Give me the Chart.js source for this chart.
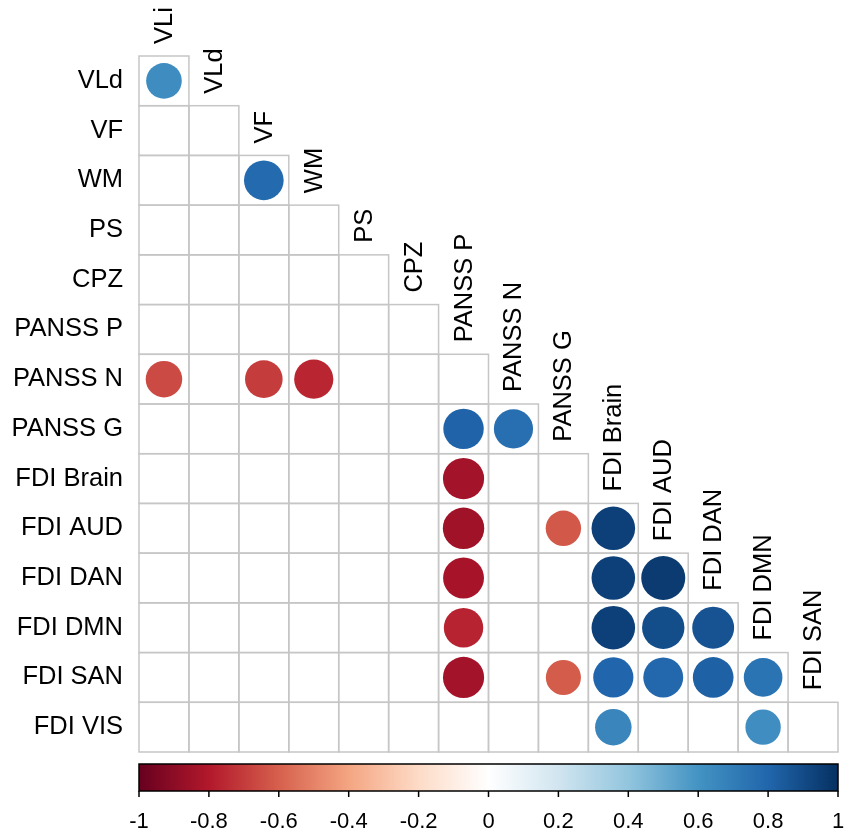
<!DOCTYPE html>
<html>
<head>
<meta charset="utf-8">
<script src="https://cdn.jsdelivr.net/npm/chart.js@4.4.0/dist/chart.umd.min.js"></script>
<style>
html, body { margin: 0; padding: 0; background: #fff; }
#wrap { width: 851px; height: 837px; }
</style>
</head>
<body>
<div id="wrap"><canvas id="corrChart"></canvas></div>
<script>
var rowLabels = ['VLd', 'VF', 'WM', 'PS', 'CPZ', 'PANSS P', 'PANSS N', 'PANSS G',
    'FDI Brain', 'FDI AUD', 'FDI DAN', 'FDI DMN', 'FDI SAN', 'FDI VIS'];
var colLabels = ['VLi', 'VLd', 'VF', 'WM', 'PS', 'CPZ', 'PANSS P', 'PANSS N',
    'PANSS G', 'FDI Brain', 'FDI AUD', 'FDI DAN', 'FDI DMN', 'FDI SAN'];

// significant correlations only (blank cells are not shown)
var corrRow = ['VLd', 'WM', 'PANSS N', 'PANSS N', 'PANSS N', 'PANSS G', 'PANSS G',
    'FDI Brain', 'FDI AUD', 'FDI AUD', 'FDI AUD', 'FDI DAN', 'FDI DAN', 'FDI DAN',
    'FDI DMN', 'FDI DMN', 'FDI DMN', 'FDI DMN', 'FDI SAN', 'FDI SAN', 'FDI SAN',
    'FDI SAN', 'FDI SAN', 'FDI SAN', 'FDI VIS', 'FDI VIS'];
var corrCol = ['VLi', 'VF', 'VLi', 'VF', 'WM', 'PANSS P', 'PANSS N',
    'PANSS P', 'PANSS P', 'PANSS G', 'FDI Brain', 'PANSS P', 'FDI Brain', 'FDI AUD',
    'PANSS P', 'FDI Brain', 'FDI AUD', 'FDI DAN', 'PANSS P', 'PANSS G', 'FDI Brain',
    'FDI AUD', 'FDI DAN', 'FDI DMN', 'FDI Brain', 'FDI DMN'];
var corrR = [0.63, 0.78, -0.66, -0.70, -0.76, 0.81, 0.76,
    -0.84, -0.85, -0.62, 0.94, -0.83, 0.94, 0.96,
    -0.77, 0.94, 0.89, 0.87, -0.84, -0.61, 0.80,
    0.79, 0.82, 0.74, 0.66, 0.62];

// colour bar ticks
var barTicks = [-1, -0.8, -0.6, -0.4, -0.2, 0, 0.2, 0.4, 0.6, 0.8, 1];
var barTickLabels = ['-1', '-0.8', '-0.6', '-0.4', '-0.2', '0', '0.2', '0.4', '0.6', '0.8', '1'];

// RdBu palette, -1 .. 1
var palette = ['#67001F', '#B2182B', '#D6604D', '#F4A582', '#FDDBC7', '#FFFFFF',
    '#D1E5F0', '#92C5DE', '#4393C3', '#2166AC', '#053061'];

function hexRgb(h) {
    return [parseInt(h.substr(1, 2), 16), parseInt(h.substr(3, 2), 16), parseInt(h.substr(5, 2), 16)];
}

function corrColor(v) {
    var t = (v + 1) / 2 * (palette.length - 1);
    var i = Math.min(Math.floor(t), palette.length - 2);
    var f = t - i;
    var a = hexRgb(palette[i]), b = hexRgb(palette[i + 1]);
    var c = [0, 1, 2].map(function (k) { return Math.round(a[k] + (b[k] - a[k]) * f); });
    return 'rgb(' + c[0] + ',' + c[1] + ',' + c[2] + ')';
}

var points = [];
for (var i = 0; i < corrR.length; i++) {
    points.push({ x: corrCol[i], y: corrRow[i], r: corrR[i] });
}

var labelFont = '25.5px "Liberation Sans", Arial, sans-serif';

function circleRadius(c) {
    if (!c.raw || !c.chart.chartArea) return 0;
    var cell = c.chart.chartArea.width / colLabels.length;
    return 0.45 * cell * Math.sqrt(Math.abs(c.raw.r));
}

// triangle of cells behind the circles
var gridPlugin = {
    id: 'triGrid',
    beforeDatasetsDraw: function (chart) {
        var ctx = chart.ctx, xs = chart.scales.x, ys = chart.scales.y;
        var hw = chart.chartArea.width / colLabels.length / 2;
        var hh = chart.chartArea.height / rowLabels.length / 2;
        ctx.save();
        ctx.strokeStyle = '#c6c6c6';
        ctx.lineWidth = 1.5;
        for (var r = 0; r < rowLabels.length; r++) {
            var cy = ys.getPixelForValue(r);
            for (var c = 0; c <= r && c < colLabels.length; c++) {
                var cx = xs.getPixelForValue(c);
                ctx.strokeRect(cx - hw, cy - hh, hw * 2, hh * 2);
            }
        }
        ctx.restore();
    }
};

// column names sit above the first cell of each column, rotated
var colLabelPlugin = {
    id: 'colLabels',
    afterDraw: function (chart) {
        var ctx = chart.ctx, xs = chart.scales.x, ys = chart.scales.y;
        var hh = chart.chartArea.height / rowLabels.length / 2;
        ctx.save();
        ctx.fillStyle = '#000';
        ctx.font = labelFont;
        ctx.textAlign = 'left';
        ctx.textBaseline = 'middle';
        for (var c = 0; c < colLabels.length; c++) {
            var x = xs.getPixelForValue(c);
            var top = ys.getPixelForValue(c) - hh;
            ctx.save();
            ctx.translate(x + 1, top - 12);
            ctx.rotate(-Math.PI / 2);
            ctx.fillText(colLabels[c], 0, 0);
            ctx.restore();
        }
        ctx.restore();
    }
};

// colour legend drawn on the 'bar' axis
var barPlugin = {
    id: 'colorBar',
    afterDraw: function (chart) {
        var ctx = chart.ctx, bs = chart.scales.bar;
        var x0 = bs.getPixelForValue(-1), x1 = bs.getPixelForValue(1);
        var y0 = chart.chartArea.bottom + 12, y1 = y0 + 27;
        var grad = ctx.createLinearGradient(x0, 0, x1, 0);
        for (var k = 0; k < palette.length; k++) {
            grad.addColorStop(k / (palette.length - 1), palette[k]);
        }
        ctx.save();
        ctx.fillStyle = grad;
        ctx.fillRect(x0, y0, x1 - x0, y1 - y0);
        ctx.strokeStyle = '#000';
        ctx.lineWidth = 1.5;
        ctx.strokeRect(x0, y0, x1 - x0, y1 - y0);
        ctx.beginPath();
        for (var t = 0; t < barTicks.length; t++) {
            var px = bs.getPixelForValue(barTicks[t]);
            ctx.moveTo(px, y1);
            ctx.lineTo(px, y1 + 6);
        }
        ctx.stroke();
        ctx.restore();
    }
};

var corrChart = new Chart(document.getElementById('corrChart').getContext('2d'), {
    type: 'scatter',
    data: {
        datasets: [{
            data: points,
            backgroundColor: function (c) { return c.raw ? corrColor(c.raw.r) : '#000'; },
            borderWidth: 0,
            pointRadius: circleRadius,
            pointHoverRadius: circleRadius
        }]
    },
    options: {
        responsive: true,
        maintainAspectRatio: false,
        animation: false,
        layout: { padding: { top: 56, right: 13, left: 0, bottom: 0 } },
        plugins: {
            legend: { display: false },
            tooltip: { enabled: false }
        },
        scales: {
            x: {
                type: 'category',
                labels: colLabels,
                offset: true,
                display: false
            },
            y: {
                type: 'category',
                labels: rowLabels,
                offset: true,
                position: 'left',
                grid: { display: false, drawTicks: false },
                border: { display: false },
                ticks: {
                    color: '#000',
                    padding: 16,
                    font: { family: '"Liberation Sans", Arial, sans-serif', size: 25.5 }
                },
                afterFit: function (s) { s.width = 139; }
            },
            bar: {
                type: 'linear',
                position: 'bottom',
                min: -1,
                max: 1,
                // the tick marks are drawn by the colour bar plugin, the long
                // transparent ticks only push the labels below the bar
                grid: {
                    display: true,
                    drawOnChartArea: false,
                    drawTicks: true,
                    tickLength: 57,
                    tickColor: 'rgba(0,0,0,0)'
                },
                border: { display: false },
                afterBuildTicks: function (s) {
                    s.ticks = barTicks.map(function (v) { return { value: v }; });
                },
                ticks: {
                    autoSkip: false,
                    maxRotation: 0,
                    color: '#000',
                    padding: 0,
                    font: { family: '"Liberation Sans", Arial, sans-serif', size: 22 },
                    callback: function (v, i) { return barTickLabels[i]; }
                },
                afterFit: function (s) { s.height = 85; }
            }
        }
    },
    plugins: [gridPlugin, colLabelPlugin, barPlugin]
});
</script>
</body>
</html>
